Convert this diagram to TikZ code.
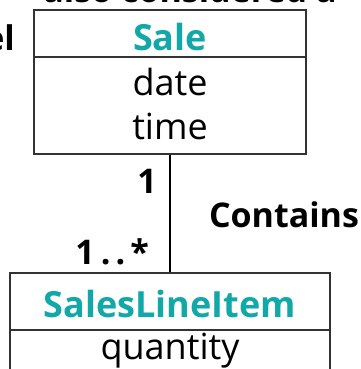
\documentclass[tikz,border=0pt]{standalone}
\usepackage{fontspec}
\setmainfont{Open Sans}
\definecolor{tealname}{RGB}{18,168,168}
\definecolor{framegray}{RGB}{51,51,51}
\begin{document}
\begin{tikzpicture}[x=1pt,y=-1pt,
  umlbox/.style={draw=framegray,line width=1.4pt,inner sep=0pt,rectangle},
  classname/.style={text=tealname,font=\fontsize{36}{40}\selectfont\bfseries,anchor=base,inner sep=0pt},
  attr/.style={text=black,font=\fontsize{36}{40}\selectfont,anchor=base,inner sep=0pt},
  lbl/.style={text=black,font=\fontsize{34}{40}\selectfont\bfseries,inner sep=0pt},
  conn/.style={draw=black,line width=1.1pt}]
\useasboundingbox (0,0) rectangle (360,369);
\clip (0,0) rectangle (360,369);
% cropped surrounding text
\node[lbl,anchor=base] (toptext) at (190,3) {also considered a};
\node[lbl,anchor=base east] (lefttext) at (15,51) {el};
% Sale class
\node[umlbox,minimum width=272pt,minimum height=47pt] (saleh) at (170,33.5) {};
\node[umlbox,minimum width=272pt,minimum height=97pt] (salea) at (170,105.5) {};
\node[classname] (salet) at (170,51) {Sale};
\node[attr] (date) at (170,95) {date};
\node[attr] (time) at (170,139) {time};
% SalesLineItem class
\node[umlbox,minimum width=320pt,minimum height=57pt] (slih) at (170,301.5) {};
\node[umlbox,minimum width=320pt,minimum height=70pt] (slia) at (170,365) {};
\node[classname] (slit) at (170,317) {SalesLineItem};
\node[attr] (qty) at (170,359) {quantity};
% association
\draw[conn] (salea.south) -- (slih.north);
\node[lbl,anchor=base east] (m1) at (157,193) {1};
\node[lbl,anchor=base east] (m2) at (149,264) {1\kern6pt.\kern5pt.\kern5pt*};
\node[lbl,anchor=base] (assoc) at (284,227) {Contains};
\end{tikzpicture}
\end{document}
